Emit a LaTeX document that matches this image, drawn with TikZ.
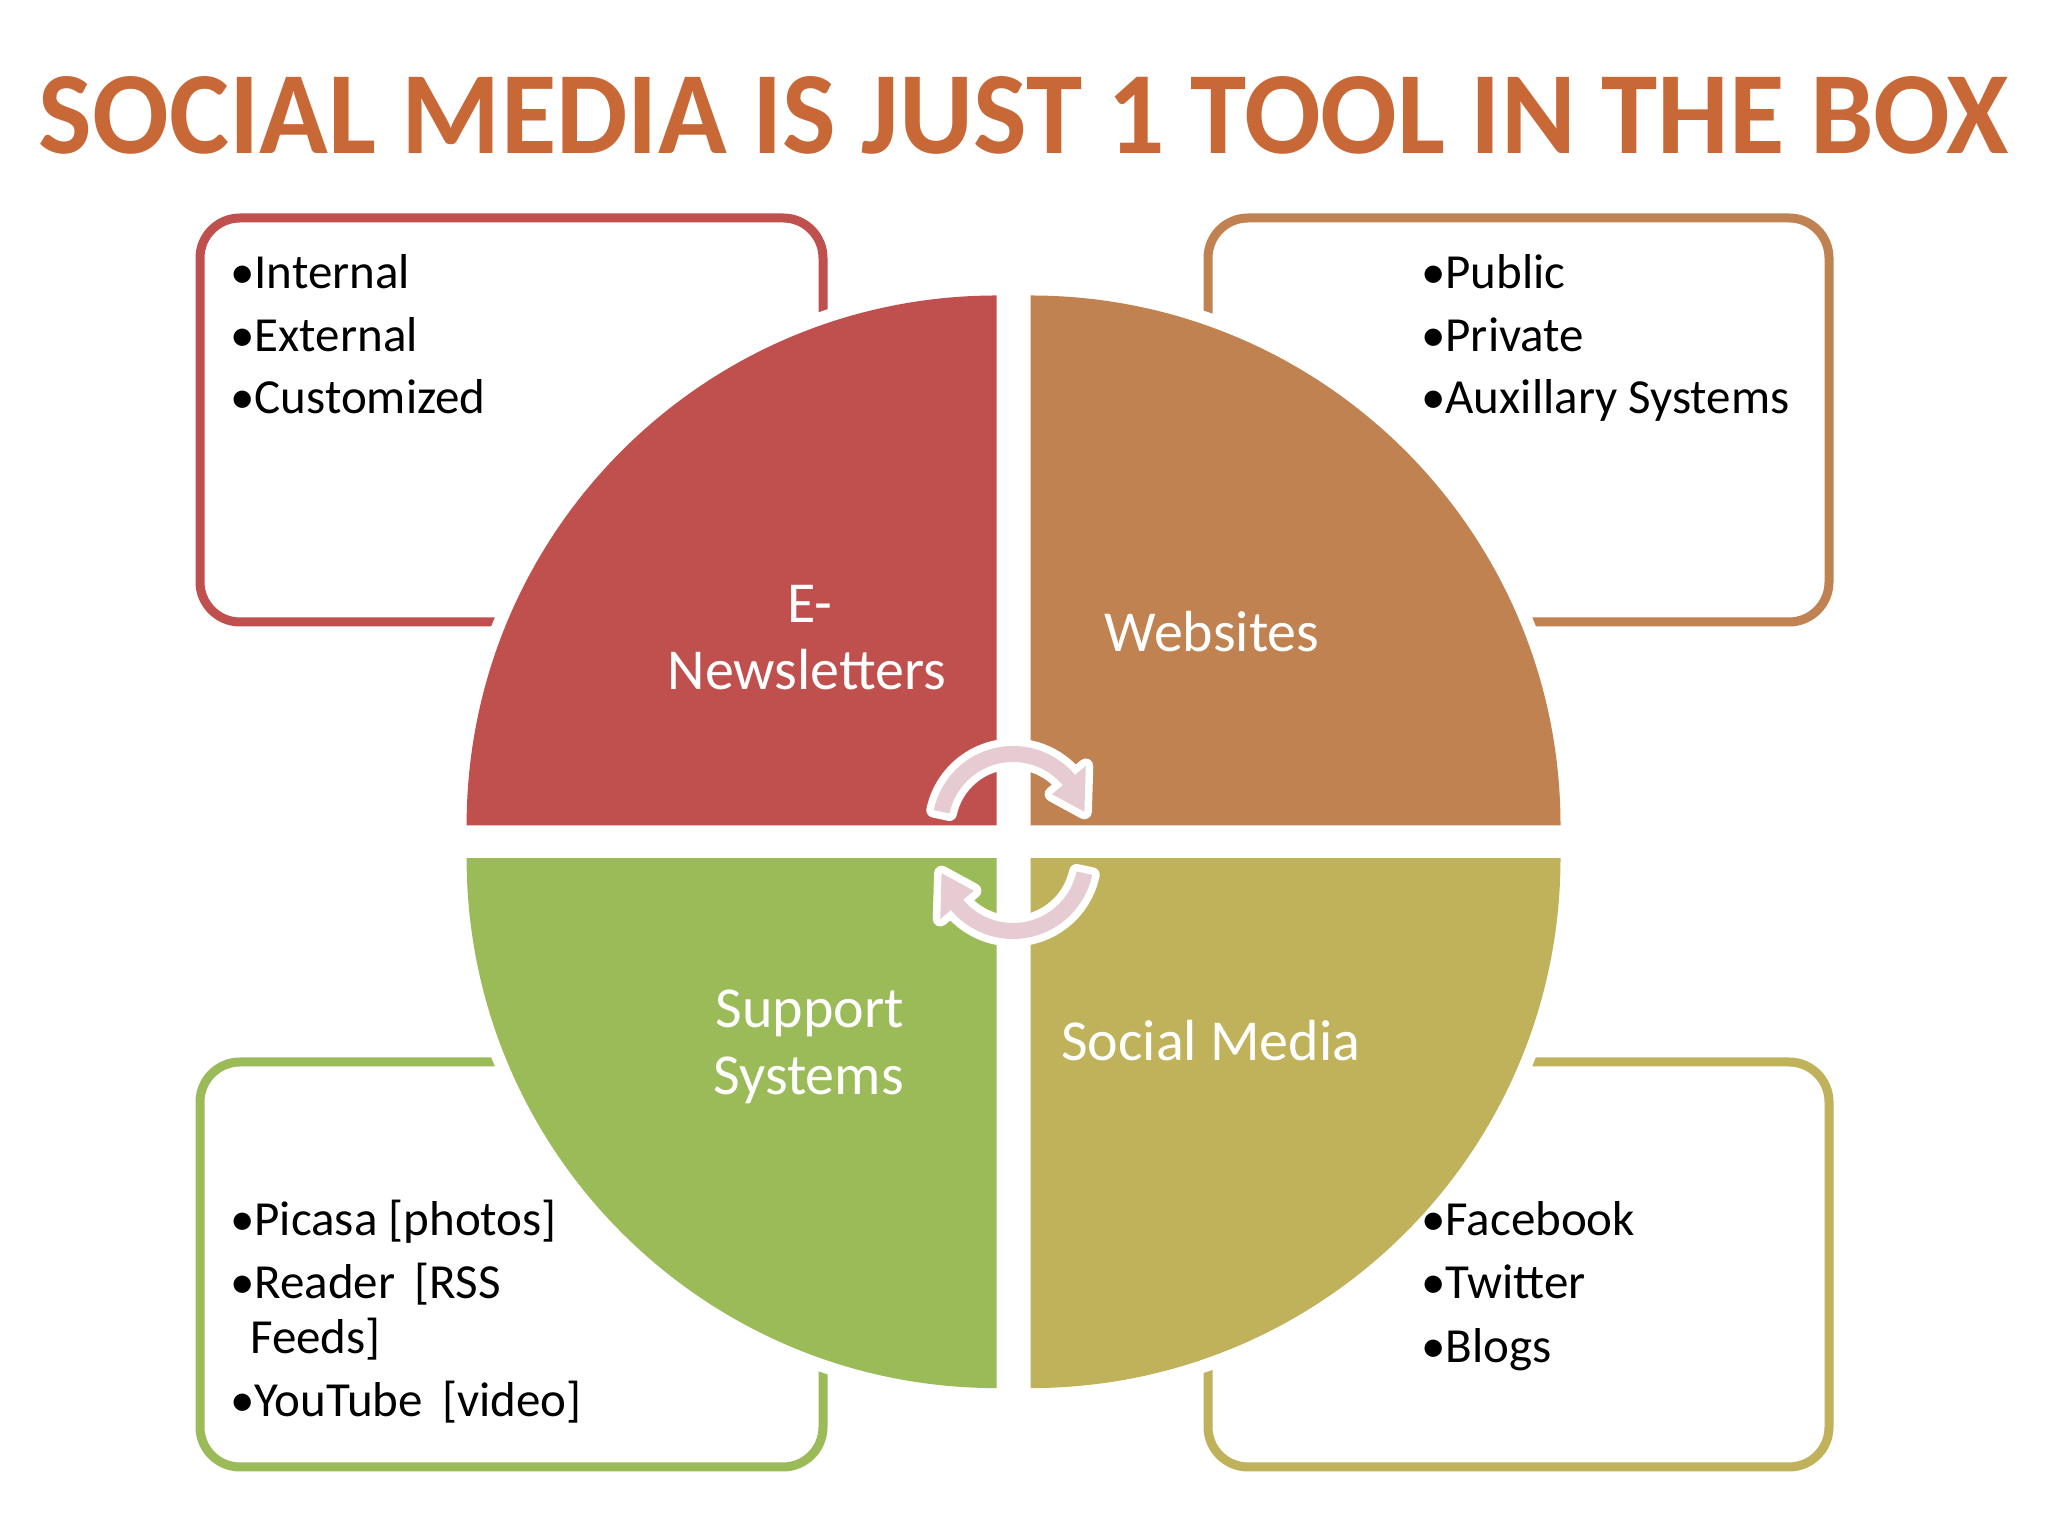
\documentclass[tikz,border=0pt]{standalone}
\usepackage{fontspec}
\usepackage{graphicx}
\setmainfont{Carlito}
\usetikzlibrary{calc}
\definecolor{titlecol}{HTML}{C86836}
\definecolor{qred}{HTML}{C0504D}
\definecolor{qorange}{HTML}{C08250}
\definecolor{qgreen}{HTML}{9BBB59}
\definecolor{qolive}{HTML}{C0B25A}
\definecolor{arrowpink}{HTML}{E6CCD2}
\begin{document}
\begin{tikzpicture}[x=1pt,y=1pt,
  infobox/.style={line width=9pt, rounded corners=40pt, fill=white, inner sep=0pt},
  item/.style={anchor=base west, inner sep=0pt, font=\fontsize{49}{60}\selectfont, text=black},
  qlabel/.style={anchor=base, inner sep=0pt, text=white, font=\fontsize{58}{66}\selectfont},
  cyc/.style={fill=arrowpink, preaction={draw=white, line width=15pt, line join=round}}
]
\fill[white] (0,0) rectangle (2048,1536);
\useasboundingbox (0,0) rectangle (2048,1536);

% title
\node[anchor=base, inner sep=0pt, text=titlecol] (title) at (1024,1382)
  {\resizebox{1970pt}{77pt}{\fontsize{120}{140}\selectfont\bfseries SOCIAL MEDIA IS JUST 1 TOOL IN THE BOX}};

% side boxes
\node[infobox, draw=qred, minimum width=623pt, minimum height=404pt] (boxTL) at (511.5,1116) {};
\node[infobox, draw=qorange, minimum width=621pt, minimum height=404pt] (boxTR) at (1518.5,1116) {};
\node[infobox, draw=qgreen, minimum width=623pt, minimum height=405pt] (boxBL) at (511.5,271.5) {};
\node[infobox, draw=qolive, minimum width=621pt, minimum height=405pt] (boxBR) at (1518.5,271.5) {};

% quadrant corners
\coordinate (cTL) at (996.6,710.5);
\coordinate (cTR) at (1030.5,710.5);
\coordinate (cBL) at (996.6,677.9);
\coordinate (cBR) at (1030.5,677.9);

% white halo
\fill[white] (cTL) -- ++(180:543) arc[start angle=180, end angle=90, radius=543pt] -- cycle;
\fill[white] (cTR) -- ++(90:543) arc[start angle=90, end angle=0, radius=543pt] -- cycle;
\fill[white] (cBR) -- ++(0:543) arc[start angle=0, end angle=-90, radius=543pt] -- cycle;
\fill[white] (cBL) -- ++(-90:543) arc[start angle=-90, end angle=-180, radius=543pt] -- cycle;

% quadrants
\fill[qred] (cTL) -- ++(180:530) arc[start angle=180, end angle=90, radius=530pt] -- cycle;
\fill[qorange] (cTR) -- ++(90:530) arc[start angle=90, end angle=0, radius=530pt] -- cycle;
\fill[qolive] (cBR) -- ++(0:530) arc[start angle=0, end angle=-90, radius=530pt] -- cycle;
\fill[qgreen] (cBL) -- ++(-90:530) arc[start angle=-90, end angle=-180, radius=530pt] -- cycle;

% quadrant labels
\node[qlabel] (lE) at (809.8,913) {E-};
\node[qlabel] (lN) at (807,846.4) {Newsletters};
\node[qlabel] (lW) at (1212,884.3) {Websites};
\node[qlabel] (lS) at (809.8,508) {Support};
\node[qlabel] (lSy) at (808.5,441.5) {Systems};
\node[qlabel] (lSM) at (1210.8,475.4) {Social Media};

% box items
\node[item] (i1) at (230,1247.4) {•Internal};
\node[item] (i2) at (230,1184.7) {•External};
\node[item] (i3) at (230,1122.0) {•Customized};
\node[item] (i4) at (1421,1247.4) {•Public};
\node[item] (i5) at (1421,1184.7) {•Private};
\node[item] (i6) at (1421,1122.0) {•Auxillary Systems};
\node[item] (i7) at (230,300.4) {•Picasa [photos]};
\node[item] (i8) at (230,237.7) {•Reader \,[RSS};
\node[item] (i9) at (250,182.9) {Feeds]};
\node[item] (i10) at (230,119) {•YouTube \,[video]};
\node[item] (i11) at (1421,300.4) {•Facebook};
\node[item] (i12) at (1421,237.7) {•Twitter};
\node[item] (i13) at (1421,173.7) {•Blogs};

% center cycle arrows
\coordinate (aT) at (1013,709);
\coordinate (aB) at (1013,678);
\path[cyc] ($(aT)+(168:81)$) arc[start angle=168, end angle=40, radius=81pt]
  -- ($(aT)+(40:95)$) -- ($(aT)+(12:73)$) -- ($(aT)+(40:51)$) -- ($(aT)+(40:65)$)
  arc[start angle=40, end angle=168, radius=65pt] -- cycle;
\path[cyc] ($(aB)+(-12:81)$) arc[start angle=-12, end angle=-140, radius=81pt]
  -- ($(aB)+(-140:95)$) -- ($(aB)+(-168:73)$) -- ($(aB)+(-140:51)$) -- ($(aB)+(-140:65)$)
  arc[start angle=-140, end angle=-12, radius=65pt] -- cycle;
\end{tikzpicture}
\end{document}
